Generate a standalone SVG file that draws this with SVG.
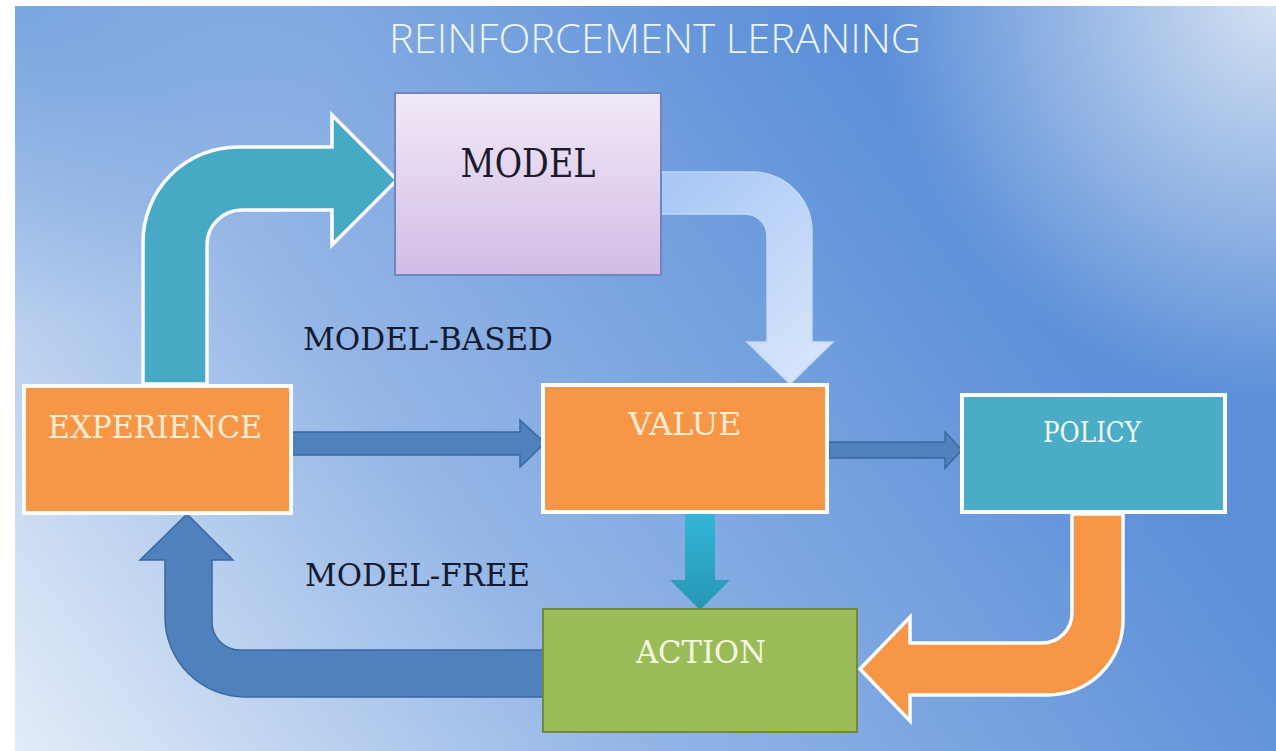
<svg xmlns="http://www.w3.org/2000/svg" width="1276" height="751" viewBox="0 0 1276 751">
<defs>
<linearGradient id="bg" gradientUnits="userSpaceOnUse" x1="15" y1="751" x2="900" y2="100">
<stop offset="0" stop-color="#e3ecf8"/>
<stop offset="0.45" stop-color="#94b6e6"/>
<stop offset="1" stop-color="#5b8fd8"/>
</linearGradient>
<radialGradient id="hl" gradientUnits="userSpaceOnUse" cx="1276" cy="0" r="400">
<stop offset="0" stop-color="#d4e1f2" stop-opacity="1"/>
<stop offset="1" stop-color="#d4e1f2" stop-opacity="0"/>
</radialGradient>
<radialGradient id="hl2" gradientUnits="userSpaceOnUse" cx="15" cy="6" r="320">
<stop offset="0" stop-color="#6f9edc" stop-opacity="0.75"/>
<stop offset="1" stop-color="#6f9edc" stop-opacity="0"/>
</radialGradient>
<linearGradient id="modelFill" x1="0" y1="0" x2="0" y2="1">
<stop offset="0" stop-color="#f1e9f7"/>
<stop offset="1" stop-color="#d2bce6"/>
</linearGradient>
<linearGradient id="lightArrow" gradientUnits="userSpaceOnUse" x1="658" y1="200" x2="830" y2="380">
<stop offset="0" stop-color="#a9c8f6"/>
<stop offset="1" stop-color="#dbe7fb"/>
</linearGradient>
<linearGradient id="tealDown" x1="0" y1="0" x2="0" y2="1">
<stop offset="0" stop-color="#32b6d8"/>
<stop offset="1" stop-color="#2795b4"/>
</linearGradient>
<style>
.lbl{font-family:"DejaVu Serif","Liberation Serif",serif;}
.box-white{stroke:#fbfcfd;stroke-width:4;}
.blue-arrow{fill:#4f81bd;stroke:#3a68a2;stroke-width:1.5;}
.white-edge{stroke:#fbfdff;stroke-width:3.5;stroke-linejoin:miter;}
</style>
</defs>

<rect x="0" y="0" width="1276" height="751" fill="#ffffff"/>
<rect x="15" y="6" width="1261" height="745" fill="url(#bg)"/>
<rect x="15" y="6" width="1261" height="745" fill="url(#hl2)"/>
<rect x="15" y="6" width="1261" height="745" fill="url(#hl)"/>

<text x="655" y="53" text-anchor="middle" font-family="'Open Sans','DejaVu Sans',sans-serif" font-weight="300" font-size="40" fill="#eef5ff" textLength="532" lengthAdjust="spacingAndGlyphs">REINFORCEMENT LERANING</text>

<g id="connectors">
<path id="exp-model" class="white-edge" fill="#47a9c4" d="M143,384 L143,242 A95,95 0 0 1 238,147 L332,147 L332,115 L397,180 L332,245 L332,210 L242,210 A35,35 0 0 0 207,245 L207,384 Z"/>
<path id="model-value" fill="url(#lightArrow)" stroke="#c4d9f7" stroke-width="1.5" d="M660,172 L752,172 A60,60 0 0 1 812,232 L812,342 L833,342 L790,384 L747,342 L767,342 L767,236 A22,22 0 0 0 745,214 L660,214 Z"/>
<path id="exp-value" class="blue-arrow" d="M291,432 L520,432 L520,420 L545,443 L520,467 L520,455 L291,455 Z"/>
<path id="value-policy" class="blue-arrow" d="M829,442 L945,442 L945,432 L962,450 L945,468 L945,458 L829,458 Z"/>
<path id="value-action" fill="url(#tealDown)" d="M685,513 L715,513 L715,580 L730,580 L700,610 L670,580 L685,580 Z"/>
<path id="policy-action" class="white-edge" fill="#f79646" d="M1072,514 L1072,613 A30,30 0 0 1 1042,643 L910,643 L910,617 L860,669 L910,721 L910,695 L1048,695 A75,75 0 0 0 1123,620 L1123,514 Z"/>
<path id="action-exp" class="blue-arrow" d="M543,650 L240,650 A28,28 0 0 1 212,622 L212,560 L233,560 L187,514 L140,560 L165,560 L165,617 A80,80 0 0 0 245,697 L543,697 Z"/>
</g>

<g id="model">
<rect x="395" y="93" width="266" height="182" fill="url(#modelFill)" stroke="#6f86bf" stroke-width="2"/>
<text class="lbl" x="528" y="177" text-anchor="middle" font-size="40" fill="#1b1b2a" textLength="135" lengthAdjust="spacingAndGlyphs">MODEL</text>
</g>

<g id="experience">
<rect x="24" y="386" width="267" height="127" fill="#f79646" class="box-white"/>
<text class="lbl" x="155" y="438" text-anchor="middle" font-size="31" fill="#fcecd3" textLength="214" lengthAdjust="spacingAndGlyphs">EXPERIENCE</text>
</g>

<g id="value">
<rect x="543" y="385" width="284" height="127" fill="#f79646" class="box-white"/>
<text class="lbl" x="685" y="435" text-anchor="middle" font-size="31" fill="#fcecd3" textLength="113" lengthAdjust="spacingAndGlyphs">VALUE</text>
</g>

<g id="policy">
<rect x="962" y="395" width="263" height="117" fill="#4bacc6" class="box-white"/>
<text class="lbl" x="1092" y="442" text-anchor="middle" font-size="27" fill="#eefaff" textLength="98" lengthAdjust="spacingAndGlyphs">POLICY</text>
</g>

<g id="action">
<rect x="543" y="609" width="314" height="123" fill="#9bbb59" stroke="#71893f" stroke-width="2"/>
<text class="lbl" x="701" y="663" text-anchor="middle" font-size="31" fill="#f3f7e0" textLength="130" lengthAdjust="spacingAndGlyphs">ACTION</text>
</g>

<g id="labels">
<text class="lbl" x="303" y="350" font-size="31" fill="#141a30" textLength="250" lengthAdjust="spacingAndGlyphs">MODEL-BASED</text>
<text class="lbl" x="305" y="586" font-size="31" fill="#141a30" textLength="225" lengthAdjust="spacingAndGlyphs">MODEL-FREE</text>
</g>
</svg>
